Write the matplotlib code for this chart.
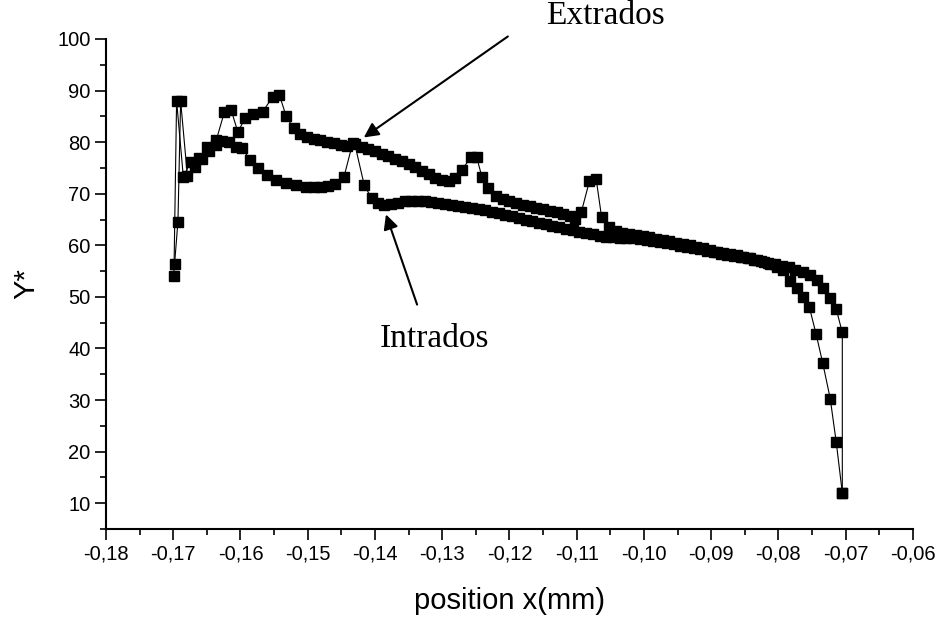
import matplotlib
matplotlib.use("Agg")
import matplotlib.pyplot as plt
from matplotlib import ticker

plt.rcParams['font.family'] = ['Liberation Sans', 'DejaVu Sans']

# first profile (goes through the 89 peak, crosses at -0.143, ends on the right branch)
x1 = [-0.1699, -0.1695, -0.1685, -0.1674, -0.1662, -0.1650, -0.1636, -0.1624, -0.1614, -0.1604,
      -0.1593, -0.1581, -0.1567, -0.1552, -0.1542, -0.1532, -0.1521, -0.1511, -0.1501, -0.1491,
      -0.1481, -0.1471, -0.1461, -0.1451, -0.1441, -0.1430, -0.1416, -0.1405, -0.1395, -0.1386,
      -0.1376, -0.1366, -0.1356, -0.1346, -0.1336, -0.1326, -0.1316, -0.1306, -0.1296, -0.1286,
      -0.1276, -0.1266, -0.1256, -0.1246, -0.1236, -0.1226, -0.1216, -0.1206, -0.1196, -0.1186,
      -0.1176, -0.1166, -0.1156, -0.1146, -0.1136, -0.1126, -0.1116, -0.1106, -0.1096, -0.1086,
      -0.1076, -0.1066, -0.1056, -0.1046, -0.1036, -0.1026, -0.1016, -0.1006, -0.0996, -0.0986,
      -0.0976, -0.0966, -0.0956, -0.0946, -0.0936, -0.0926, -0.0916, -0.0906, -0.0896, -0.0886,
      -0.0876, -0.0866, -0.0856, -0.0846, -0.0836, -0.0826, -0.0815, -0.0805, -0.0795, -0.0785,
      -0.0775, -0.0764, -0.0753, -0.0743, -0.0733, -0.0724, -0.0714, -0.0705, -0.0705]
y1 = [54.0, 88.0, 73.3, 76.2, 77.0, 79.0, 80.4, 85.8, 86.3, 82.0,
      84.6, 85.5, 85.9, 88.8, 89.1, 85.0, 82.7, 81.6, 81.0, 80.7,
      80.4, 80.1, 79.8, 79.5, 79.3, 79.6, 71.7, 69.1, 68.2, 67.9,
      68.0, 68.3, 68.5, 68.6, 68.6, 68.5, 68.4, 68.2, 68.0, 67.8,
      67.6, 67.4, 67.2, 67.0, 66.8, 66.5, 66.2, 65.9, 65.6, 65.3,
      65.0, 64.7, 64.4, 64.1, 63.8, 63.5, 63.2, 62.9, 62.6, 62.4,
      62.1, 61.9, 61.7, 61.6, 61.5, 61.5, 61.4, 61.3, 61.1, 60.9,
      60.7, 60.4, 60.2, 59.9, 59.7, 59.4, 59.2, 58.9, 58.7, 58.4,
      58.2, 58.0, 57.7, 57.5, 57.2, 56.9, 56.6, 56.3, 56.0, 55.7,
      55.3, 54.8, 54.2, 53.3, 51.7, 49.7, 47.6, 43.1, 12.0]

# second profile (lower hump on the left, spikes at -0.125 and -0.108, left branch at the end)
x2 = [-0.1698, -0.1693, -0.1689, -0.1679, -0.1667, -0.1657, -0.1647, -0.1637, -0.1627, -0.1617,
      -0.1607, -0.1597, -0.1586, -0.1574, -0.1561, -0.1547, -0.1532, -0.1517, -0.1502, -0.1490,
      -0.1480, -0.1470, -0.1460, -0.1446, -0.1433, -0.1420, -0.1410, -0.1400, -0.1390, -0.1380,
      -0.1370, -0.1360, -0.1350, -0.1340, -0.1330, -0.1320, -0.1310, -0.1300, -0.1290, -0.1281,
      -0.1271, -0.1257, -0.1249, -0.1241, -0.1232, -0.1220, -0.1210, -0.1200, -0.1190, -0.1180,
      -0.1170, -0.1160, -0.1150, -0.1140, -0.1130, -0.1120, -0.1110, -0.1102, -0.1093, -0.1081,
      -0.1071, -0.1063, -0.1052, -0.1042, -0.1032, -0.1022, -0.1012, -0.1002, -0.0992, -0.0982,
      -0.0972, -0.0962, -0.0952, -0.0942, -0.0932, -0.0922, -0.0912, -0.0902, -0.0892, -0.0882,
      -0.0872, -0.0862, -0.0852, -0.0842, -0.0832, -0.0822, -0.0812, -0.0802, -0.0793, -0.0783,
      -0.0773, -0.0764, -0.0754, -0.0744, -0.0734, -0.0723, -0.0714, -0.0705]
y2 = [56.4, 64.6, 88.0, 73.5, 75.2, 76.8, 78.2, 79.5, 80.3, 80.0,
      79.0, 78.8, 76.5, 74.9, 73.6, 72.7, 72.0, 71.6, 71.4, 71.4,
      71.4, 71.5, 71.8, 73.3, 79.9, 79.1, 78.7, 78.2, 77.8, 77.3,
      76.8, 76.3, 75.7, 75.1, 74.5, 73.8, 73.1, 72.6, 72.4, 73.0,
      74.6, 77.1, 77.2, 73.3, 71.1, 69.6, 69.0, 68.6, 68.2, 67.9,
      67.6, 67.3, 67.0, 66.7, 66.4, 66.0, 65.6, 65.1, 66.5, 72.5,
      72.8, 65.5, 63.6, 62.8, 62.4, 62.2, 62.0, 61.8, 61.6, 61.3,
      61.0, 60.8, 60.5, 60.2, 60.0, 59.7, 59.4, 59.1, 58.8, 58.6,
      58.3, 58.1, 57.8, 57.5, 57.1, 56.7, 56.3, 55.8, 55.3, 53.0,
      51.7, 49.9, 48.0, 42.8, 37.1, 30.3, 21.8, 12.0]

fig = plt.figure(figsize=(9.48, 6.17), dpi=100)
ax = fig.add_axes([0.1118, 0.1426, 0.8512, 0.7942])

for xs, ys in ((x1, y1), (x2, y2)):
    ax.plot(xs, ys, color='black', lw=0.8, marker='s', ms=7.8,
            mfc='black', mec='black', clip_on=False)

ax.set_xlim(-0.18, -0.06)
ax.set_ylim(5, 100)
ax.xaxis.set_major_locator(ticker.MultipleLocator(0.01))
ax.xaxis.set_minor_locator(ticker.MultipleLocator(0.005))
ax.yaxis.set_major_locator(ticker.FixedLocator(range(10, 101, 10)))
ax.yaxis.set_minor_locator(ticker.FixedLocator(range(5, 100, 10)))
ax.xaxis.set_major_formatter(ticker.FuncFormatter(lambda v, p: f'{v:.2f}'.replace('.', ',')))

for s in ('top', 'right'):
    ax.spines[s].set_visible(False)
for s in ('left', 'bottom'):
    ax.spines[s].set_linewidth(1.5)
ax.tick_params(which='major', direction='out', length=8, width=1.2, labelsize=14.5, pad=3)
ax.tick_params(which='minor', direction='out', length=4, width=1.2)

ax.set_xlabel('position x(mm)', fontsize=21, labelpad=17)
ax.set_ylabel('Y*', fontsize=21, labelpad=12)

serif = ['Liberation Serif', 'DejaVu Serif']
ax.annotate('', xy=(-0.1420, 80.6), xytext=(-0.1199, 100.8),
            arrowprops=dict(arrowstyle='-|>', color='black', lw=1.5, mutation_scale=22),
            annotation_clip=False)
ax.text(-0.1058, 102.9, 'Extrados', family=serif, fontsize=24,
        ha='center', va='baseline', clip_on=False)
ax.annotate('', xy=(-0.1385, 66.5), xytext=(-0.1336, 48.0),
            arrowprops=dict(arrowstyle='-|>', color='black', lw=1.5, mutation_scale=22),
            annotation_clip=False)
ax.text(-0.1311, 40.3, 'Intrados', family=serif, fontsize=24,
        ha='center', va='baseline')

fig.savefig('out.png', dpi=100)
